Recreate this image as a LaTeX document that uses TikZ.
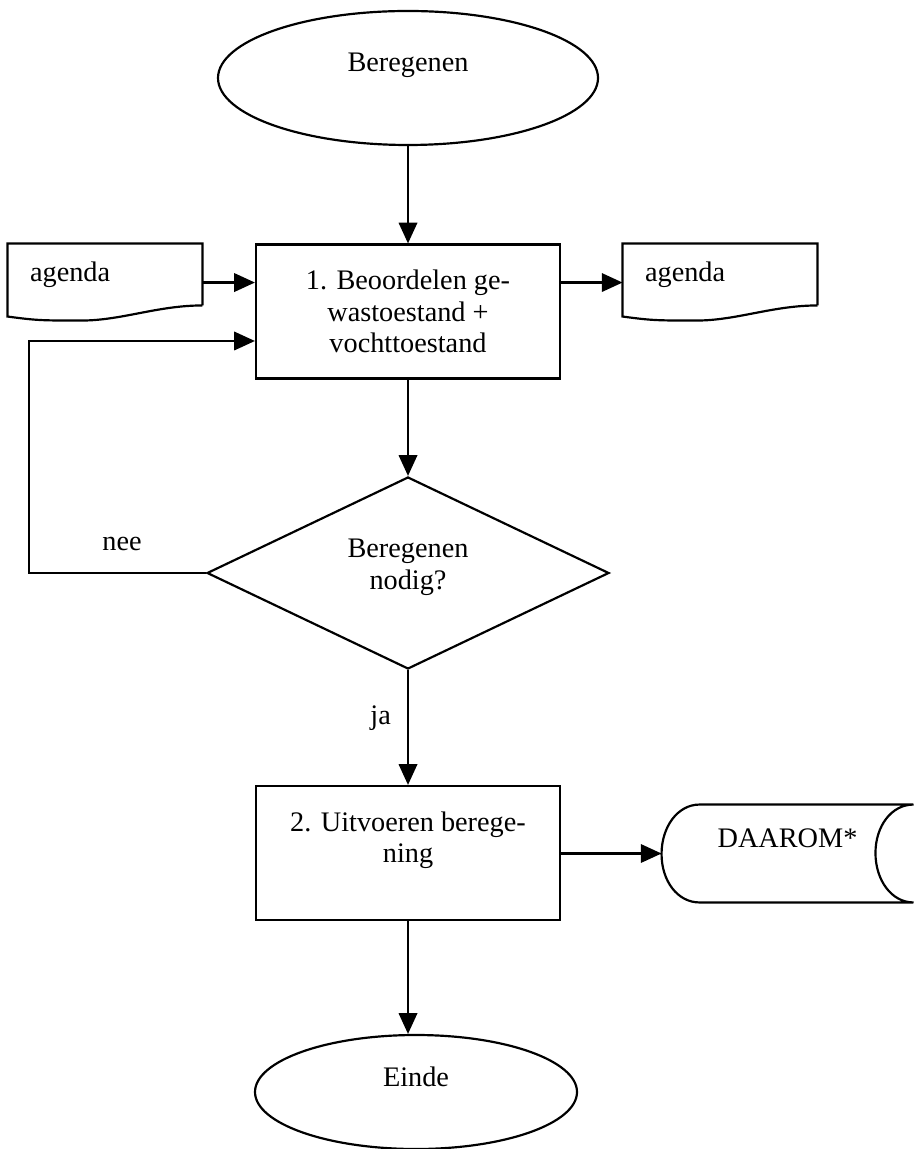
\documentclass[tikz,border=0pt]{standalone}
\usepackage{fontspec}
\setmainfont{Liberation Serif}
\usetikzlibrary{arrows.meta,positioning,shapes.geometric,calc}
\newcommand{\pxu}{0.435pt}
% outline of a document symbol round an (invisible) node
\newcommand{\docoutline}[1]{%
  \draw[thickline] (#1.south east) -- (#1.north east) -- (#1.north west) -- ++(0,73)
    .. controls +(30,4) and +(-40,0) .. ++(74,4)
    .. controls +(40,0) and +(-45,0) .. (#1.south east);}

\begin{document}
\begin{tikzpicture}[x=\pxu,y=-\pxu,
  font=\fontsize{12.3}{13.6}\selectfont,
  every node/.style={inner sep=0pt},
  thickline/.style={line width=0.95pt},
  flow/.style={thickline,-{Triangle[length=9pt,width=8pt]}},
  term/.style={ellipse,draw,thickline,align=center},
  proc/.style={rectangle,draw,thickline,align=center,minimum width=304*\pxu,minimum height=134*\pxu},
  decision/.style={diamond,draw,thickline,align=center,aspect=2},
  docbox/.style={rectangle,minimum height=61*\pxu,text width=65.2pt,inner xsep=9.6pt,align=left},
  store/.style={rectangle,minimum width=251*\pxu,minimum height=97*\pxu,align=center}]
\useasboundingbox (0,0) rectangle (913,1149);
% ----- main column -----
\node[term,minimum width=380*\pxu,minimum height=134*\pxu] (start) at (408,78) {Beregenen\\\mbox{}};
\node[proc] (beoord) at (408,311.5) {1. Beoordelen ge-\\wastoestand +\\vochttoestand};
\node[decision,minimum width=402*\pxu,minimum height=192*\pxu] (nodig) at (408,573) {Beregenen\\nodig?\\[-6pt]\mbox{}};
\node[proc] (uitvoer) at (408,853) {2. Uitvoeren berege-\\ning\\\mbox{}};
\node[term,minimum width=322*\pxu,minimum height=114*\pxu] (einde) at (416,1092) {Einde\\\mbox{}};
% ----- documents and data store -----
\node[docbox] (agIn) at (105,274.5) {agenda};
\docoutline{agIn}
\node[docbox] (agOut) at (720,274.5) {agenda};
\docoutline{agOut}
\node[store] (db) at (787.5,853.5) {DAAROM*\\\mbox{}};
\draw[thickline] ($(db.north west)+(38,0)$) -- (db.north east)
  .. controls +(-22,0) and +(0,-27) .. ++(-38,48.5)
  .. controls +(0,27) and +(-22,0) .. (db.south east)
  -- ($(db.south west)+(38,0)$)
  .. controls +(-22,0) and +(0,27) .. ++(-38,-48.5)
  .. controls +(0,-27) and +(-22,0) .. ($(db.north west)+(38,0)$);
% ----- connectors -----
\draw[flow] (start) -- (beoord);
\draw[flow] (beoord) -- (nodig);
\draw[flow] (nodig) -- node[left=7pt,pos=0.42] (ja) {ja} (uitvoer);
\draw[flow] (uitvoer.south) -- (uitvoer.south |- einde.north);
\draw[flow] (uitvoer.east |- db.west) -- (db.west);
\draw[flow] ([yshift=-3.5pt]agIn.east) -- ([yshift=-3.5pt]agIn.east -| beoord.west);
\draw[flow] ([yshift=-3.5pt]beoord.east |- agOut.west) -- ([yshift=-3.5pt]agOut.west);
\coordinate (terug) at (29,341);
\draw[flow] (nodig.west) -| (terug) -- (terug -| beoord.west);
\node (nee) at (122,544) {nee};
\end{tikzpicture}
\end{document}
